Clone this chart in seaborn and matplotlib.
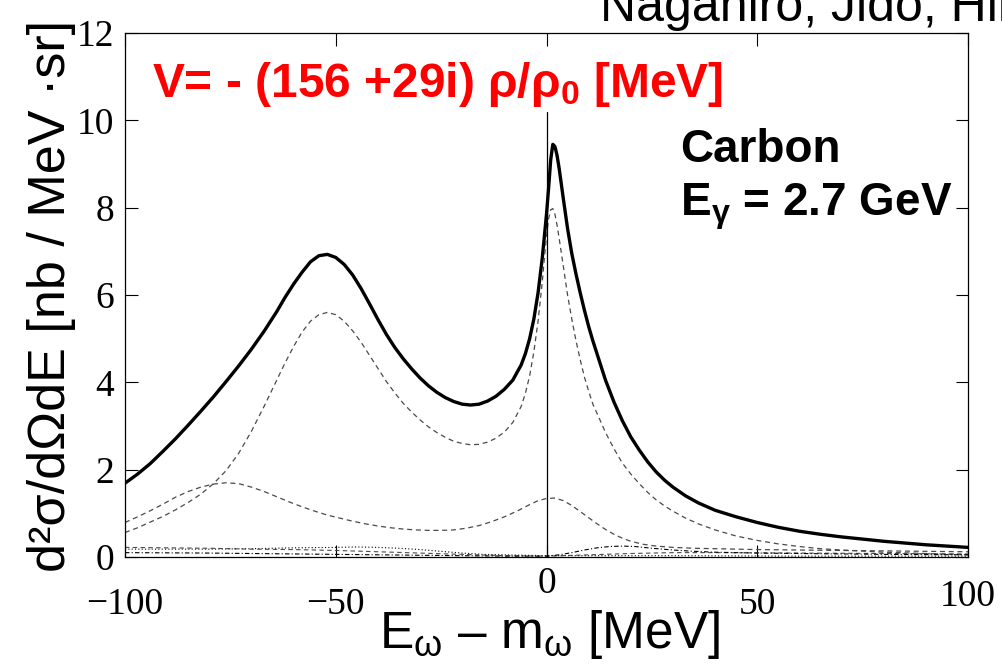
import numpy as np
import pandas as pd
import seaborn as sns
import matplotlib
matplotlib.use("Agg")
import matplotlib.pyplot as plt
from matplotlib.transforms import ScaledTranslation

# ---------------- data ----------------
total_E = [-100, -97, -94, -91, -88, -85, -82, -79, -76, -73, -70, -67, -64, -62, -60, -58,
           -56, -54, -52, -50, -48, -46, -44, -42, -40, -38, -36, -34, -32, -30, -28, -26,
           -24, -22, -20, -18, -16, -14, -12, -10, -8, -6, -5, -4, -3, -2, -1, -0.5, 0,
           0.5, 1, 1.5, 2, 2.5, 3, 4, 5, 6, 7, 8, 9, 10, 11, 12.5, 14, 16, 18, 20, 22, 24,
           26, 28, 30, 33, 36, 40, 45, 50, 55, 60, 65, 70, 75, 80, 85, 90, 95, 100]
total_y = [1.69, 1.90, 2.14, 2.42, 2.71, 3.02, 3.34, 3.67, 4.02, 4.38, 4.76, 5.17, 5.62,
           5.95, 6.25, 6.52, 6.76, 6.90, 6.93, 6.86, 6.70, 6.46, 6.15, 5.80, 5.44, 5.10,
           4.80, 4.54, 4.31, 4.10, 3.92, 3.77, 3.65, 3.56, 3.50, 3.48, 3.50, 3.57, 3.68,
           3.84, 4.05, 4.40, 4.66, 5.00, 5.45, 6.05, 6.85, 7.35, 7.85, 8.45, 9.10, 9.45,
           9.40, 9.20, 8.90, 8.20, 7.52, 6.95, 6.48, 6.05, 5.65, 5.28, 4.95, 4.50, 4.05,
           3.55, 3.12, 2.75, 2.45, 2.18, 1.95, 1.76, 1.60, 1.40, 1.24, 1.07, 0.92, 0.79,
           0.68, 0.59, 0.52, 0.46, 0.41, 0.36, 0.32, 0.28, 0.25, 0.22]

dash1_E = [-100, -97, -94, -91, -88, -85, -82, -79, -76, -73, -70, -67, -64, -62, -60, -58,
           -56, -54, -52, -50, -48, -46, -44, -42, -40, -38, -36, -34, -32, -30, -28, -26,
           -24, -22, -20, -18, -16, -14, -12, -10, -8, -6, -5, -4, -3, -2, -1, -0.5, 0,
           0.5, 1, 1.5, 2, 2.5, 3, 4, 5, 6, 7, 8, 9, 10, 11, 12.5, 14, 16, 18, 20, 22, 24,
           26, 28, 30, 33, 36, 40, 45, 50, 55, 60, 65, 70, 80, 90, 100]
dash1_y = [0.56, 0.67, 0.80, 0.93, 1.08, 1.25, 1.44, 1.68, 1.98, 2.38, 2.88, 3.45, 4.05,
           4.45, 4.82, 5.15, 5.40, 5.55, 5.60, 5.55, 5.40, 5.18, 4.92, 4.62, 4.32, 4.02,
           3.76, 3.52, 3.32, 3.14, 2.98, 2.85, 2.74, 2.65, 2.60, 2.57, 2.58, 2.63, 2.72,
           2.86, 3.08, 3.45, 3.75, 4.15, 4.70, 5.40, 6.30, 6.85, 7.35, 7.75, 7.95, 7.98,
           7.85, 7.60, 7.30, 6.65, 6.00, 5.45, 4.95, 4.52, 4.12, 3.80, 3.50, 3.18, 2.85,
           2.48, 2.15, 1.90, 1.68, 1.48, 1.31, 1.17, 1.05, 0.89, 0.76, 0.62, 0.48, 0.38,
           0.30, 0.24, 0.19, 0.16, 0.11, 0.08, 0.05]

dash2_E = [-100, -97, -94, -91, -88, -85, -82, -79, -76, -73, -70, -67, -64, -61, -58, -55,
           -52, -49, -46, -43, -40, -37, -34, -31, -28, -25, -22, -19, -16, -13, -10, -7,
           -4, -2, 0, 2, 4, 6, 8, 10, 12, 14, 16, 18, 20, 23, 26, 30, 35, 40, 50, 60, 70,
           80, 90, 100]
dash2_y = [0.79, 0.92, 1.06, 1.21, 1.37, 1.50, 1.60, 1.67, 1.70, 1.68, 1.60, 1.50, 1.38,
           1.26, 1.15, 1.05, 0.96, 0.89, 0.82, 0.76, 0.71, 0.67, 0.64, 0.62, 0.61, 0.61,
           0.62, 0.66, 0.72, 0.81, 0.92, 1.05, 1.20, 1.29, 1.34, 1.35, 1.29, 1.18, 1.04,
           0.90, 0.76, 0.63, 0.52, 0.43, 0.36, 0.29, 0.25, 0.22, 0.20, 0.19, 0.17, 0.16,
           0.15, 0.14, 0.13, 0.12]

dot_E = [-100, -90, -80, -70, -60, -50, -45, -40, -35, -30, -25, -20, -15, -10, -5, 0, 10,
         30, 60, 100]
dot_y = [0.18, 0.18, 0.18, 0.19, 0.21, 0.22, 0.23, 0.22, 0.20, 0.17, 0.13, 0.09, 0.06,
         0.05, 0.04, 0.03, 0.03, 0.03, 0.02, 0.02]

small_dash_E = [-100, -90, -80, -70, -60, -50, -40, -30, -20, -10, 0, 10, 20, 30, 40, 60,
                80, 100]
small_dash_y = [0.22, 0.21, 0.20, 0.18, 0.17, 0.15, 0.12, 0.09, 0.06, 0.03, 0.02, 0.05,
                0.08, 0.10, 0.10, 0.09, 0.08, 0.07]

dashdot_E = [-100, -80, -60, -40, -20, -10, 0, 3, 6, 9, 12, 15, 18, 21, 25, 30, 35, 40,
             50, 60, 80, 100]
dashdot_y = [0.10, 0.09, 0.07, 0.05, 0.03, 0.02, 0.02, 0.05, 0.10, 0.16, 0.21, 0.24,
             0.25, 0.24, 0.20, 0.16, 0.13, 0.11, 0.09, 0.08, 0.06, 0.05]

x_ticks = [-100, -50, 0, 50, 100]
x_tick_labels = ["\u2212100", "\u221250", "0", "50", "100"]
y_ticks = [0, 2, 4, 6, 8, 10, 12]
y_tick_labels = ["0", "2", "4", "6", "8", "10", "12"]
zero_line_top = 10.2

# ---------------- style ----------------
sns.set_theme(style="ticks")
plt.rcParams["font.family"] = ["Liberation Sans", "DejaVu Sans"]
plt.rcParams["mathtext.fontset"] = "custom"
plt.rcParams["mathtext.rm"] = "Liberation Sans"
plt.rcParams["mathtext.it"] = "Liberation Sans"
plt.rcParams["mathtext.bf"] = "Liberation Sans:bold"

fig = plt.figure(figsize=(10.02, 6.67), dpi=100)
fig.patch.set_facecolor("white")
ax = fig.add_axes([125 / 1002, 1 - 557 / 667, (968 - 125) / 1002, (557 - 33) / 667])
ax.set_facecolor("white")

gray = "#4a4a4a"
sns.lineplot(x=total_E, y=total_y, ax=ax, color="black", lw=2.4)
sns.lineplot(x=dash1_E, y=dash1_y, ax=ax, color=gray, lw=0.9, linestyle=(0, (4, 3)))
sns.lineplot(x=dash2_E, y=dash2_y, ax=ax, color=gray, lw=0.9, linestyle=(0, (4, 3)))
sns.lineplot(x=dot_E, y=dot_y, ax=ax, color="black", lw=0.8, linestyle=(0, (1, 2)))
sns.lineplot(x=small_dash_E, y=small_dash_y, ax=ax, color=gray, lw=0.8, linestyle=(0, (4, 3)))
sns.lineplot(x=dashdot_E, y=dashdot_y, ax=ax, color="black", lw=0.8, linestyle=(0, (4, 2, 1, 2)))
ax.axvline(0, ymin=0, ymax=zero_line_top / 12, color="black", lw=0.9)

ax.set_xlim(-100, 100)
ax.set_ylim(0, 12)
ax.set_xlabel("")
ax.set_ylabel("")
for s in ax.spines.values():
    s.set_color("black")
    s.set_linewidth(0.9)
    s.set_visible(True)

ax.set_xticks(x_ticks)
ax.set_xticklabels(x_tick_labels)
ax.set_yticks(y_ticks)
ax.set_yticklabels(y_tick_labels)
ax.tick_params(axis="both", direction="in", top=True, right=True, length=9, width=0.8,
               color="black", labelsize=27, labelcolor="black")
ax.tick_params(axis="x", pad=22)
ax.tick_params(axis="y", pad=8)
for lbl in ax.get_xticklabels() + ax.get_yticklabels():
    lbl.set_family("Liberation Serif")

# individual vertical offsets of x tick labels as in the reference
x_label_shift = {"0": 21, "100": 8}
for lbl in ax.get_xticklabels():
    sh = x_label_shift.get(lbl.get_text(), 0)
    if sh:
        lbl.set_transform(lbl.get_transform() + ScaledTranslation(0, sh / 100, fig.dpi_scale_trans))

# ---------------- texts ----------------
fig.text(52 / 1002, 1 - 296 / 667, "d\u00b2\u03c3/d\u03a9dE [nb / MeV \u00b7sr]",
         rotation=90, ha="center", va="center", fontsize=37.5, color="black")
fig.text(549 / 1002, (667 - 648) / 667, "E$_{\\omega}$ \u2013 m$_{\\omega}$ [MeV]",
         ha="center", va="baseline", fontsize=37, color="black")
fig.text(152 / 1002, (667 - 97) / 667, "V= - (156 +29i) \u03c1/\u03c1$_{\\mathbf{0}}$ [MeV]",
         ha="left", va="baseline", fontsize=34.5, color="#ff0000", fontweight="bold")
fig.text(680 / 1002, (667 - 162) / 667, "Carbon", ha="left", va="baseline",
         fontsize=33, color="black", fontweight="bold")
fig.text(680 / 1002, (667 - 215) / 667, "E$_{\\mathbf{\\gamma}}$ = 2.7 GeV", ha="left", va="baseline",
         fontsize=33, color="black", fontweight="bold")
fig.text(600 / 1002, (667 - 21) / 667, "Nagahiro, Jido, Hirenzaki", ha="left", va="baseline",
         fontsize=36, color="black")

fig.savefig("out.png", dpi=100, facecolor="white")
